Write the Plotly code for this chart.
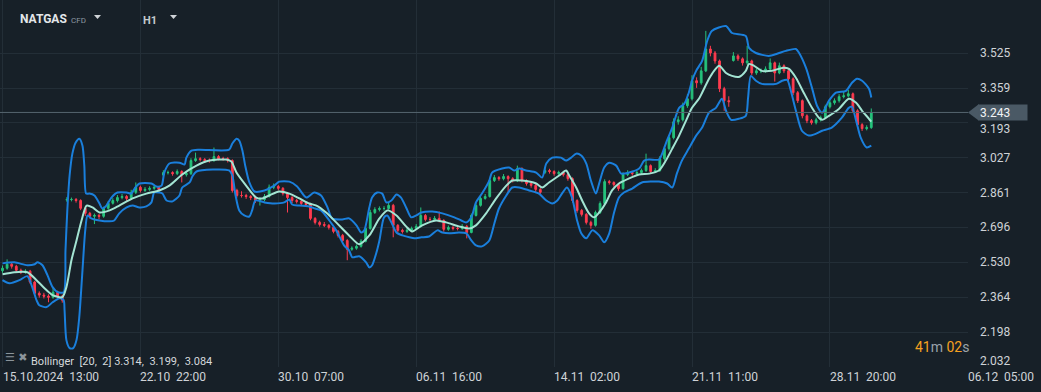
import plotly.graph_objects as go

# ---------------- data ----------------
bar_idx = list(range(190))

opens = [
    2.490, 2.502, 2.521, 2.511, 2.492, 2.483, 2.488, 2.436, 2.383, 2.374,
    2.369, 2.364, 2.388, 2.369, 2.826, 2.829, 2.829, 2.824, 2.787, 2.763,
    2.749, 2.753, 2.749, 2.787, 2.811, 2.824, 2.838, 2.843, 2.834, 2.863,
    2.887, 2.872, 2.877, 2.882, 2.887, 2.945, 2.957, 2.957, 2.952, 2.962,
    2.947, 2.952, 3.014, 3.023, 3.019, 3.014, 3.014, 3.033, 3.023, 3.023,
    3.014, 2.872, 2.848, 2.848, 2.843, 2.838, 2.824, 2.829, 2.843, 2.887,
    2.891, 2.882, 2.858, 2.838, 2.824, 2.820, 2.810, 2.805, 2.739, 2.720,
    2.710, 2.706, 2.696, 2.677, 2.658, 2.634, 2.592, 2.597, 2.606, 2.630,
    2.691, 2.767, 2.781, 2.786, 2.786, 2.801, 2.706, 2.682, 2.677, 2.682,
    2.691, 2.701, 2.753, 2.734, 2.734, 2.739, 2.729, 2.687, 2.696, 2.691,
    2.691, 2.701, 2.672, 2.753, 2.801, 2.834, 2.843, 2.919, 2.933, 2.928,
    2.938, 2.928, 2.919, 2.976, 2.919, 2.905, 2.896, 2.877, 2.958, 2.967,
    2.962, 2.952, 2.957, 2.947, 2.928, 2.824, 2.777, 2.758, 2.720, 2.706,
    2.767, 2.810, 2.914, 2.910, 2.900, 2.881, 2.948, 2.957, 2.952, 2.957,
    2.967, 2.990, 2.962, 2.967, 3.023, 3.071, 3.123, 3.199, 3.208, 3.275,
    3.308, 3.394, 3.384, 3.441, 3.545, 3.526, 3.488, 3.356, 3.299, 3.490,
    3.512, 3.498, 3.479, 3.488, 3.431, 3.441, 3.441, 3.450, 3.479, 3.431,
    3.465, 3.441, 3.403, 3.337, 3.299, 3.227, 3.204, 3.194, 3.208, 3.218,
    3.270, 3.289, 3.299, 3.318, 3.322, 3.332, 3.251, 3.185, 3.166, 3.171,
]

closes = [
    2.502, 2.521, 2.511, 2.492, 2.483, 2.488, 2.436, 2.383, 2.374, 2.369,
    2.364, 2.388, 2.369, 2.350, 2.829, 2.829, 2.824, 2.787, 2.763, 2.749,
    2.753, 2.749, 2.787, 2.811, 2.824, 2.838, 2.843, 2.834, 2.863, 2.887,
    2.872, 2.877, 2.882, 2.887, 2.877, 2.957, 2.957, 2.952, 2.962, 2.947,
    2.952, 3.014, 3.023, 3.019, 3.014, 3.014, 3.033, 3.023, 3.023, 3.014,
    2.872, 2.848, 2.848, 2.843, 2.838, 2.824, 2.829, 2.843, 2.887, 2.891,
    2.882, 2.858, 2.838, 2.824, 2.820, 2.810, 2.805, 2.739, 2.720, 2.710,
    2.706, 2.696, 2.677, 2.658, 2.634, 2.592, 2.597, 2.606, 2.630, 2.691,
    2.767, 2.781, 2.786, 2.786, 2.801, 2.706, 2.682, 2.677, 2.682, 2.691,
    2.701, 2.753, 2.734, 2.734, 2.739, 2.729, 2.687, 2.696, 2.691, 2.691,
    2.701, 2.672, 2.753, 2.801, 2.834, 2.843, 2.919, 2.933, 2.928, 2.938,
    2.928, 2.919, 2.976, 2.919, 2.905, 2.896, 2.877, 2.863, 2.967, 2.962,
    2.952, 2.957, 2.947, 2.928, 2.824, 2.777, 2.758, 2.720, 2.706, 2.767,
    2.810, 2.914, 2.910, 2.900, 2.881, 2.948, 2.957, 2.952, 2.957, 2.967,
    2.990, 2.962, 2.967, 3.023, 3.071, 3.123, 3.199, 3.208, 3.275, 3.308,
    3.394, 3.384, 3.441, 3.545, 3.526, 3.488, 3.356, 3.299, 3.294, 3.512,
    3.498, 3.479, 3.488, 3.431, 3.441, 3.441, 3.450, 3.479, 3.431, 3.465,
    3.441, 3.403, 3.337, 3.299, 3.227, 3.204, 3.194, 3.208, 3.218, 3.270,
    3.289, 3.299, 3.318, 3.322, 3.332, 3.251, 3.185, 3.166, 3.171, 3.243,
]

highs = [
    2.515, 2.544, 2.530, 2.518, 2.500, 2.497, 2.494, 2.442, 2.392, 2.385,
    2.378, 2.412, 2.395, 2.376, 2.840, 2.838, 2.836, 2.830, 2.795, 2.770,
    2.762, 2.760, 2.795, 2.822, 2.835, 2.850, 2.855, 2.850, 2.875, 2.910,
    2.895, 2.888, 2.892, 2.897, 2.893, 2.968, 2.966, 2.963, 2.972, 2.968,
    2.962, 3.025, 3.052, 3.030, 3.026, 3.024, 3.076, 3.040, 3.032, 3.030,
    3.020, 2.880, 2.868, 2.856, 2.850, 2.845, 2.838, 2.855, 2.900, 2.905,
    2.898, 2.888, 2.865, 2.845, 2.832, 2.828, 2.818, 2.812, 2.745, 2.728,
    2.722, 2.712, 2.702, 2.684, 2.665, 2.640, 2.606, 2.615, 2.640, 2.700,
    2.780, 2.792, 2.796, 2.797, 2.815, 2.808, 2.712, 2.690, 2.692, 2.700,
    2.712, 2.791, 2.760, 2.745, 2.750, 2.772, 2.735, 2.705, 2.702, 2.700,
    2.712, 2.708, 2.762, 2.812, 2.845, 2.855, 2.930, 2.945, 2.940, 2.950,
    2.944, 2.935, 2.990, 2.982, 2.925, 2.912, 2.902, 2.883, 2.980, 2.975,
    2.968, 2.966, 2.962, 2.952, 2.934, 2.830, 2.784, 2.764, 2.728, 2.776,
    2.820, 2.925, 2.922, 2.915, 2.906, 2.958, 2.968, 2.965, 2.968, 2.976,
    3.047, 2.996, 2.978, 3.035, 3.082, 3.135, 3.215, 3.225, 3.290, 3.330,
    3.420, 3.410, 3.460, 3.631, 3.560, 3.535, 3.495, 3.365, 3.320, 3.530,
    3.520, 3.505, 3.560, 3.494, 3.452, 3.452, 3.462, 3.500, 3.485, 3.480,
    3.472, 3.448, 3.410, 3.345, 3.305, 3.234, 3.212, 3.218, 3.228, 3.280,
    3.300, 3.310, 3.330, 3.345, 3.350, 3.338, 3.258, 3.192, 3.182, 3.262,
]

lows = [
    2.480, 2.495, 2.500, 2.485, 2.474, 2.476, 2.428, 2.375, 2.362, 2.358,
    2.340, 2.357, 2.360, 2.338, 2.818, 2.820, 2.814, 2.778, 2.750, 2.738,
    2.712, 2.735, 2.742, 2.780, 2.805, 2.815, 2.830, 2.822, 2.828, 2.855,
    2.862, 2.865, 2.870, 2.875, 2.868, 2.938, 2.948, 2.942, 2.945, 2.910,
    2.938, 2.945, 3.008, 3.010, 3.005, 3.004, 3.008, 3.015, 3.014, 3.005,
    2.862, 2.838, 2.838, 2.832, 2.826, 2.812, 2.800, 2.820, 2.838, 2.878,
    2.872, 2.848, 2.767, 2.812, 2.810, 2.800, 2.795, 2.730, 2.710, 2.700,
    2.698, 2.686, 2.668, 2.648, 2.625, 2.540, 2.585, 2.590, 2.600, 2.625,
    2.685, 2.760, 2.772, 2.776, 2.780, 2.649, 2.672, 2.667, 2.670, 2.675,
    2.685, 2.695, 2.725, 2.724, 2.726, 2.720, 2.676, 2.680, 2.682, 2.682,
    2.684, 2.644, 2.668, 2.748, 2.795, 2.828, 2.838, 2.912, 2.918, 2.920,
    2.860, 2.910, 2.912, 2.910, 2.895, 2.885, 2.865, 2.850, 2.950, 2.952,
    2.942, 2.944, 2.938, 2.918, 2.814, 2.766, 2.748, 2.710, 2.690, 2.700,
    2.760, 2.805, 2.900, 2.890, 2.870, 2.875, 2.940, 2.942, 2.945, 2.950,
    2.960, 2.952, 2.955, 2.960, 3.015, 3.062, 3.115, 3.185, 3.200, 3.265,
    3.300, 3.360, 3.375, 3.435, 3.510, 3.475, 3.340, 3.251, 3.270, 3.485,
    3.488, 3.466, 3.470, 3.420, 3.422, 3.430, 3.432, 3.442, 3.390, 3.425,
    3.430, 3.392, 3.325, 3.288, 3.215, 3.192, 3.185, 3.186, 3.200, 3.212,
    3.262, 3.280, 3.290, 3.310, 3.315, 3.240, 3.172, 3.155, 3.158, 3.165,
]

# Bollinger (20, 2) bands: (bar position, price)
upper_x = [
    0, 2.6, 5.4, 7.0, 7.6, 8.7, 9.8, 10.9, 12.0, 13.3,
    13.7, 14.1, 14.6, 15.2, 15.9, 16.7, 17.4, 17.8, 18.2, 18.9,
    20.0, 21.1, 21.7, 22.6, 23.7, 25.0, 27.0, 28.0, 28.9, 29.8,
    32.4, 33.5, 34.6, 35.2, 36.3, 38.5, 39.6, 40.0, 41.1, 42.8,
    49.3, 50.0, 50.9, 51.5, 52.2, 52.8, 53.7, 54.8, 57.0, 59.1,
    60.2, 62.4, 64.1, 66.1, 67.8, 69.3, 70.7, 71.7, 73.9, 75.4,
    77.0, 78.0, 78.7, 79.8, 80.4, 81.5, 82.6, 83.5, 84.6, 85.7,
    86.7, 87.8, 88.9, 90.0, 91.1, 93.5, 95.7, 98.3, 99.8, 100.9,
    102.0, 103.0, 104.3, 105.9, 106.5, 108.7, 110.2, 111.3, 112.4, 113.9,
    116.1, 117.4, 118.3, 119.6, 121.5, 122.6, 123.7, 124.8, 125.9, 127.0,
    128.0, 129.1, 129.8, 130.9, 132.0, 133.5, 134.6, 136.3, 138.5, 139.6,
    140.7, 142.8, 143.5, 144.3, 145.7, 146.5, 147.2, 148.3, 149.3, 150.0,
    150.9, 152.2, 153.3, 154.3, 157.4, 158.7, 161.7, 162.4, 163.9, 166.7,
    168.5, 170.4, 172.6, 173.3, 174.8, 176.1, 177.2, 178.3, 179.8, 181.3,
    183.5, 184.8, 185.9, 187.0, 188.5, 189.0,
]
upper_y = [
    2.525, 2.530, 2.516, 2.521, 2.530, 2.516, 2.468, 2.412, 2.388, 2.388,
    2.587, 2.777, 2.943, 3.047, 3.099, 3.118, 3.085, 2.990, 2.857, 2.857,
    2.848, 2.810, 2.786, 2.800, 2.838, 2.862, 2.862, 2.857, 2.886, 2.905,
    2.905, 2.891, 2.895, 2.957, 3.000, 3.004, 2.995, 3.028, 3.061, 3.066,
    3.066, 3.095, 3.118, 3.109, 3.061, 2.990, 2.910, 2.867, 2.872, 2.895,
    2.914, 2.914, 2.891, 2.838, 2.862, 2.848, 2.791, 2.739, 2.734, 2.739,
    2.706, 2.672, 2.682, 2.791, 2.838, 2.862, 2.857, 2.815, 2.824, 2.853,
    2.838, 2.791, 2.744, 2.753, 2.767, 2.772, 2.763, 2.744, 2.729, 2.720,
    2.744, 2.815, 2.857, 2.919, 2.957, 2.976, 2.981, 2.967, 2.976, 2.967,
    2.957, 2.933, 3.000, 3.028, 3.028, 3.014, 3.028, 3.047, 3.038, 3.000,
    2.919, 2.857, 2.905, 2.981, 3.004, 2.990, 2.952, 2.957, 2.976, 3.014,
    3.019, 3.019, 3.047, 3.095, 3.171, 3.227, 3.265, 3.284, 3.337, 3.394,
    3.441, 3.488, 3.583, 3.631, 3.654, 3.621, 3.607, 3.550, 3.526, 3.512,
    3.522, 3.536, 3.545, 3.526, 3.455, 3.360, 3.275, 3.242, 3.299, 3.337,
    3.346, 3.384, 3.403, 3.394, 3.356, 3.314,
]

middle_x = [
    0, 2.6, 5.4, 7.4, 9.6, 10.9, 13.0, 13.9, 15.0, 16.1,
    17.2, 18.3, 19.6, 21.1, 23.3, 25.4, 28.3, 31.3, 34.1, 36.3,
    39.1, 42.2, 45.0, 48.7, 49.8, 50.9, 53.0, 55.2, 56.5, 58.0,
    60.2, 62.4, 64.6, 66.7, 68.3, 70.4, 72.6, 75.4, 77.6, 79.8,
    82.0, 83.7, 85.7, 87.8, 89.1, 91.3, 94.3, 96.5, 99.3, 101.5,
    103.0, 105.2, 107.4, 109.6, 110.9, 113.0, 116.1, 117.4, 118.9, 121.1,
    122.6, 123.3, 124.8, 126.1, 127.6, 128.7, 129.8, 131.3, 132.6, 134.1,
    136.3, 138.5, 140.7, 142.8, 144.3, 145.7, 147.2, 148.7, 150.0, 151.5,
    152.2, 153.7, 154.8, 155.9, 157.4, 158.7, 160.2, 161.7, 162.4, 163.5,
    165.2, 167.4, 169.6, 171.1, 172.6, 174.3, 176.1, 177.6, 178.3, 179.8,
    182.0, 184.1, 185.7, 187.0, 188.5, 189.0,
]
middle_y = [
    2.473, 2.483, 2.483, 2.445, 2.397, 2.374, 2.364, 2.412, 2.540, 2.634,
    2.729, 2.800, 2.791, 2.767, 2.777, 2.800, 2.834, 2.857, 2.872, 2.895,
    2.948, 2.990, 3.014, 3.019, 3.009, 2.957, 2.895, 2.838, 2.834, 2.848,
    2.867, 2.857, 2.834, 2.810, 2.800, 2.767, 2.720, 2.658, 2.616, 2.658,
    2.739, 2.777, 2.753, 2.701, 2.677, 2.706, 2.729, 2.720, 2.701, 2.691,
    2.706, 2.763, 2.834, 2.895, 2.919, 2.919, 2.905, 2.886, 2.910, 2.943,
    2.967, 2.943, 2.886, 2.824, 2.763, 2.744, 2.767, 2.815, 2.872, 2.905,
    2.929, 2.948, 2.952, 2.967, 3.014, 3.071, 3.133, 3.204, 3.265, 3.308,
    3.337, 3.403, 3.441, 3.465, 3.431, 3.417, 3.412, 3.441, 3.474, 3.465,
    3.441, 3.441, 3.455, 3.450, 3.408, 3.337, 3.265, 3.218, 3.208, 3.227,
    3.261, 3.308, 3.289, 3.251, 3.213, 3.199,
]

lower_x = [
    0, 1.5, 3.7, 5.4, 7.4, 8.0, 9.6, 10.9, 12.4, 13.3,
    13.5, 13.9, 14.6, 15.4, 16.1, 16.7, 17.4, 18.0, 18.5, 19.3,
    21.1, 23.3, 24.3, 25.4, 27.0, 28.3, 29.8, 31.3, 32.4, 33.0,
    34.1, 34.8, 35.7, 37.0, 38.5, 39.1, 40.7, 41.3, 42.2, 49.3,
    50.0, 50.7, 51.5, 52.6, 53.7, 54.3, 55.0, 57.0, 59.1, 61.3,
    62.4, 63.0, 64.6, 66.7, 68.0, 69.3, 71.1, 72.6, 74.3, 75.4,
    76.1, 77.6, 79.1, 79.8, 80.4, 81.3, 82.0, 83.0, 83.7, 84.6,
    85.7, 87.0, 88.5, 89.6, 91.1, 92.8, 94.6, 95.7, 97.2, 99.3,
    100.9, 102.0, 103.0, 104.3, 105.9, 107.0, 108.0, 109.6, 110.9, 112.4,
    114.6, 116.7, 118.3, 119.6, 120.7, 121.7, 122.8, 123.9, 125.0, 125.9,
    127.0, 128.3, 129.8, 130.9, 132.0, 133.0, 134.1, 135.2, 137.0, 139.1,
    142.8, 144.6, 145.7, 146.7, 147.8, 149.3, 150.9, 152.2, 153.7, 155.2,
    156.5, 157.4, 158.5, 160.2, 161.7, 162.2, 162.8, 163.9, 165.2, 168.3,
    169.6, 170.7, 171.5, 172.6, 173.9, 175.4, 177.0, 178.3, 180.4, 182.6,
    184.1, 184.8, 185.7, 186.7, 188.0, 189.0,
]
lower_y = [
    2.445, 2.430, 2.445, 2.464, 2.350, 2.326, 2.317, 2.340, 2.359, 2.350,
    2.302, 2.160, 2.122, 2.122, 2.160, 2.269, 2.492, 2.682, 2.753, 2.739,
    2.729, 2.725, 2.729, 2.763, 2.791, 2.800, 2.791, 2.796, 2.815, 2.862,
    2.862, 2.857, 2.824, 2.820, 2.848, 2.886, 2.910, 2.938, 2.962, 2.967,
    2.943, 2.848, 2.777, 2.753, 2.748, 2.777, 2.824, 2.815, 2.810, 2.815,
    2.829, 2.805, 2.800, 2.796, 2.786, 2.777, 2.729, 2.682, 2.611, 2.587,
    2.554, 2.559, 2.530, 2.506, 2.516, 2.573, 2.634, 2.744, 2.753, 2.720,
    2.672, 2.658, 2.649, 2.644, 2.649, 2.653, 2.682, 2.672, 2.668, 2.672,
    2.668, 2.634, 2.611, 2.606, 2.634, 2.715, 2.786, 2.848, 2.886, 2.886,
    2.872, 2.857, 2.824, 2.810, 2.824, 2.857, 2.886, 2.838, 2.729, 2.668,
    2.644, 2.682, 2.658, 2.625, 2.668, 2.763, 2.838, 2.862, 2.881, 2.910,
    2.914, 2.905, 2.886, 2.952, 3.014, 3.071, 3.133, 3.171, 3.242, 3.265,
    3.308, 3.251, 3.208, 3.213, 3.227, 3.313, 3.417, 3.394, 3.379, 3.379,
    3.394, 3.398, 3.346, 3.251, 3.156, 3.133, 3.142, 3.156, 3.171, 3.218,
    3.265, 3.270, 3.204, 3.123, 3.076, 3.085,
]

x_tick_pos = [0, 30, 60, 90, 120, 150, 180, 210]
x_tick_date = ["15.10.2024", "22.10", "30.10", "06.11", "14.11", "21.11", "28.11", "06.12"]
x_tick_time = ["13:00", "22:00", "07:00", "16:00", "02:00", "11:00", "20:00", "05:00"]
y_tick_vals = [2.032, 2.198, 2.364, 2.530, 2.696, 2.861, 3.027, 3.193, 3.359, 3.525]
y_tick_text = ["2.032", "2.198", "2.364", "2.530", "2.696", "2.861", "3.027", "3.193", "3.359", "3.525"]
last_price = 3.243
boll_period, boll_mult = 20, 2
boll_last = [3.314, 3.199, 3.084]
symbol, symbol_kind, timeframe = "NATGAS", "CFD", "H1"
timer_min, timer_sec = "41", "02"

assert len(opens) == len(closes) == len(highs) == len(lows) == len(bar_idx)
assert len(upper_x) == len(upper_y) and len(middle_x) == len(middle_y) and len(lower_x) == len(lower_y)

# ---------------- style ----------------
BG = "#172028"
GRID = "#232e37"
TXT = "#cfd3d7"
GREEN = "#25c27c"
RED = "#ff3b4f"
BLUE = "#1a7fdc"
MINT = "#a3e4d3"
ORANGE = "#f5a020"
TAG = "#4a5965"
FONT = "Roboto, 'Open Sans', sans-serif"

W, H = 1041, 392
MR, MB = 73, 25
PW, PH = W - MR, H - MB          # plot area in px
X_RANGE = [-0.544, 210.04]
Y_RANGE = [2.032, 3.778]

def px_x(p):   # paper x from pixel x
    return p / PW

def px_y(p):   # paper y from pixel y
    return (PH - p) / PH

fig = go.Figure()

fig.add_trace(go.Candlestick(
    x=bar_idx, open=opens, high=highs, low=lows, close=closes,
    increasing=dict(line=dict(color=GREEN, width=1), fillcolor=GREEN),
    decreasing=dict(line=dict(color=RED, width=1), fillcolor=RED),
    whiskerwidth=0, hoverinfo="skip", showlegend=False,
))

for xs, ys, col in [(upper_x, upper_y, BLUE), (lower_x, lower_y, BLUE), (middle_x, middle_y, MINT)]:
    fig.add_trace(go.Scatter(
        x=xs, y=ys, mode="lines",
        line=dict(color=col, width=2, shape="spline", smoothing=0.7),
        hoverinfo="skip", showlegend=False,
    ))

ann = []
# price-axis labels (right side); the one just under the price tag sits right below it
for v, t in zip(y_tick_vals, y_tick_text):
    shift = 0
    if v == Y_RANGE[0]:
        shift = 6
    elif abs(v - last_price) < 0.06:
        shift = -6
    ann.append(dict(
        x=1, xref="paper", xanchor="left", xshift=10,
        y=v, yref="y", yanchor="middle", yshift=shift,
        text=t, showarrow=False, font=dict(family=FONT, size=12, color=TXT),
    ))
# last price tag
ann.append(dict(
    x=1, xref="paper", xanchor="left", xshift=10,
    y=last_price, yref="y", yanchor="middle",
    text=f"{last_price:.3f}", showarrow=False, align="left",
    width=46, height=13, borderpad=1, bgcolor=TAG,
    font=dict(family=FONT, size=12, color="#f2f4f6"),
))
# time-axis labels
for p, d, t in zip(x_tick_pos, x_tick_date, x_tick_time):
    ann.append(dict(
        x=p, xref="x", xanchor="left", xshift=-2,
        y=0, yref="paper", yanchor="top", yshift=-1,
        text=f"{d}\u00a0 {t}", showarrow=False,
        font=dict(family=FONT, size=12, color=TXT),
    ))
# header
ann.append(dict(x=px_x(18), xref="paper", xanchor="left", y=px_y(19), yref="paper", yanchor="middle",
                text=f"<b>{symbol}</b>", showarrow=False, font=dict(family=FONT, size=12, color="#e4e7ea")))
ann.append(dict(x=px_x(69), xref="paper", xanchor="left", y=px_y(20), yref="paper", yanchor="middle",
                text=symbol_kind, showarrow=False, font=dict(family=FONT, size=8, color="#8d98a2")))
ann.append(dict(x=px_x(141), xref="paper", xanchor="left", y=px_y(20), yref="paper", yanchor="middle",
                text=f"<b>{timeframe}</b>", showarrow=False, font=dict(family=FONT, size=11, color="#c3c9ce")))
# indicator legend
ann.append(dict(x=px_x(3), xref="paper", xanchor="left", y=px_y(357), yref="paper", yanchor="middle",
                text="☰ ✖", showarrow=False, font=dict(family="DejaVu Sans", size=11, color="#8b949b")))
ann.append(dict(
    x=px_x(29), xref="paper", xanchor="left", y=px_y(361), yref="paper", yanchor="middle",
    text=f"Bollinger\u00a0 [{boll_period},\u00a0 {boll_mult}] {boll_last[0]:.3f},\u00a0 {boll_last[1]:.3f},\u00a0 {boll_last[2]:.3f}",
    showarrow=False, font=dict(family=FONT, size=11, color="#d5d9dc"),
))
# candle timer
ann.append(dict(
    x=px_x(913), xref="paper", xanchor="left", y=px_y(347), yref="paper", yanchor="middle",
    text=f"<span style='color:{ORANGE}'>{timer_min}</span>m <span style='color:{ORANGE}'>{timer_sec}</span>s",
    showarrow=False, font=dict(family=FONT, size=14, color="#9aa3ab"),
))

shapes = [
    # last price line
    dict(type="line", xref="paper", x0=0, x1=1, yref="y", y0=last_price, y1=last_price,
         line=dict(color="#56646f", width=1), layer="above"),
    # tag arrow
    dict(type="path", xref="paper", yref="y",
         path=f"M 1.0,{last_price} L {1 + 11 / PW},{last_price + 0.040} L {1 + 11 / PW},{last_price - 0.040} Z",
         fillcolor=TAG, line=dict(width=0), layer="above"),
    # dropdown triangles
    dict(type="path", xref="paper", yref="paper",
         path=f"M {px_x(94)},{px_y(15)} L {px_x(101)},{px_y(15)} L {px_x(97.5)},{px_y(19)} Z",
         fillcolor="#d0d4d8", line=dict(width=0)),
    dict(type="path", xref="paper", yref="paper",
         path=f"M {px_x(170)},{px_y(15)} L {px_x(177)},{px_y(15)} L {px_x(173.5)},{px_y(19)} Z",
         fillcolor="#d0d4d8", line=dict(width=0)),
]

fig.update_layout(
    width=W, height=H,
    margin=dict(l=0, r=MR, t=0, b=MB, pad=0),
    paper_bgcolor=BG, plot_bgcolor=BG,
    showlegend=False, hovermode=False, dragmode=False,
    boxgap=0.45,
    annotations=ann, shapes=shapes,
    font=dict(family=FONT, color=TXT),
)
fig.update_xaxes(
    range=X_RANGE, tickvals=x_tick_pos, showticklabels=False, ticks="",
    showgrid=True, gridcolor=GRID, gridwidth=1, zeroline=False, showline=False,
    rangeslider_visible=False, fixedrange=True,
)
fig.update_yaxes(
    range=Y_RANGE, tickvals=y_tick_vals, showticklabels=False, ticks="",
    showgrid=True, gridcolor=GRID, gridwidth=1, zeroline=False, showline=False,
    side="right", fixedrange=True,
)

fig.write_html("out.html", config={"displayModeBar": False},
               post_script="document.body.style.margin='0';document.body.style.overflow='hidden';")
